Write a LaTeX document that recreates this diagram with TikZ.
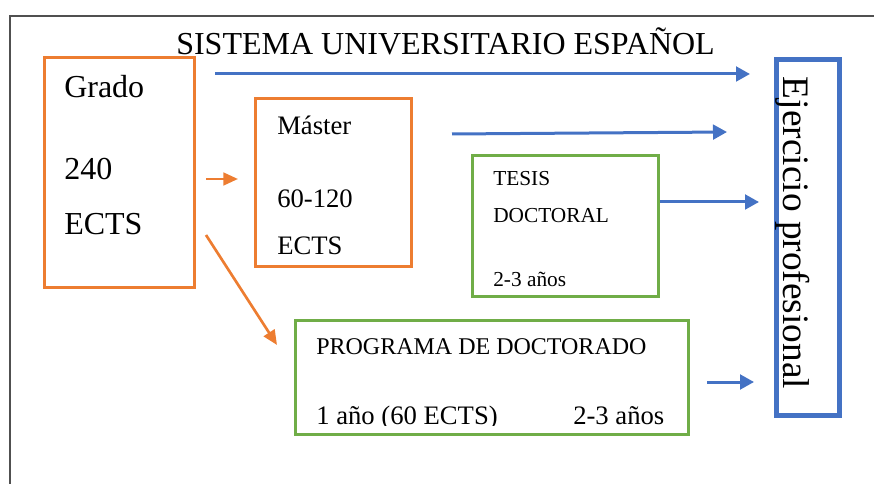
\documentclass[tikz,border=0pt]{standalone}
\usepackage{fontspec}
\setmainfont{Liberation Serif}
\usepackage{tikz}
\usetikzlibrary{arrows.meta,positioning}
\usepackage{xcolor}
\definecolor{naranja}{HTML}{ED7D31}
\definecolor{azul}{HTML}{4472C4}
\definecolor{verde}{HTML}{70AD47}
\definecolor{marco}{HTML}{505050}
\tikzset{
  caja/.style={draw,rectangle,inner sep=0pt},
  caja naranja/.style={caja,draw=naranja,line width=2.25pt},
  caja verde/.style={caja,draw=verde,line width=2.25pt},
  caja azul/.style={caja,draw=azul,line width=3.75pt},
  texto/.style={anchor=base west,inner sep=0pt},
  flecha azul/.style={draw=azul,line width=2.25pt,-{Triangle[length=10.5pt,width=11pt]}},
  flecha naranja/.style={draw=naranja,line width=2pt,-{Triangle[length=11pt,width=9.5pt]}}
}
\newcommand{\tam}[1]{\fontsize{#1}{#1}\selectfont}

\begin{document}
\begin{tikzpicture}[x=0.75pt,y=-0.75pt]
      \useasboundingbox (0,0) rectangle (874,484);
      \draw[marco,line width=1.5pt] (10,484) -- (10,16) -- (874,16);
      \node[texto,font=\tam{24}] (titulo) at (176,55) {SISTEMA UNIVERSITARIO ESPAÑOL};
      \node[caja naranja,minimum width=112.5pt,minimum height=172.5pt] (grado) at (119.5,172.5) {};
      \node[texto,font=\tam{24}] (grado 1) at (64,98) {Grado};
      \node[texto,font=\tam{24}] (grado 2) at (64,180) {240};
      \node[texto,font=\tam{24}] (grado 3) at (64,235) {ECTS};
      \node[caja naranja,minimum width=117pt,minimum height=126pt] (master) at (333.5,182.5) {};
      \node[texto,font=\tam{20}] (master 1) at (277,135) {Máster};
      \node[texto,font=\tam{20}] (master 2) at (277,208) {60-120};
      \node[texto,font=\tam{20}] (master 3) at (277,255) {ECTS};
      \node[caja verde,minimum width=139.5pt,minimum height=105.75pt] (tesis) at (565.5,226) {};
      \node[texto,font=\tam{16}] (tesis 1) at (493,186) {TESIS};
      \node[texto,font=\tam{16}] (tesis 2) at (493,223) {DOCTORAL};
      \node[texto,font=\tam{16}] (tesis 3) at (493,287) {2-3 años};
      \node[caja verde,minimum width=294.75pt,minimum height=85.5pt] (programa) at (492,377.5) {};
      \node[texto,font=\tam{18}] (programa 1) at (316,354) {PROGRAMA DE DOCTORADO};
      \begin{scope}
        \clip (294,320) rectangle (690,425);
        \node[texto,font=\tam{20}] (programa 2) at (316,424) {1 año (60 ECTS)};
      \end{scope}
      \node[texto,font=\tam{20}] (programa 3) at (573,424) {2-3 años};
      \node[caja azul,minimum width=47.25pt,minimum height=267pt] (ejercicio) at (808,237.5) {};
      \node[rotate=-90,anchor=base,inner sep=0pt,font=\tam{28}] (ejercicio texto) at (783,233) {Ejercicio profesional};
      \coordinate (grado sale) at (215,74);
      \coordinate (grado llega) at (750,74);
      \coordinate (master sale) at (452,134);
      \coordinate (master llega) at (727,132);
      \coordinate (tesis sale) at (660,202);
      \coordinate (tesis llega) at (759,202);
      \coordinate (programa sale) at (707,382);
      \coordinate (programa llega) at (754,382);
      \coordinate (a master sale) at (206,179);
      \coordinate (a master llega) at (238,179);
      \coordinate (a programa sale) at (206,235);
      \coordinate (a programa llega) at (277,345);
      \draw[flecha azul] (grado sale) -- (grado llega);
      \draw[flecha azul] (master sale) -- (master llega);
      \draw[flecha azul] (tesis sale) -- (tesis llega);
      \draw[flecha azul] (programa sale) -- (programa llega);
      \draw[flecha naranja] (a master sale) -- (a master llega);
      \draw[flecha naranja] (a programa sale) -- (a programa llega);
    \end{tikzpicture}
\end{document}
